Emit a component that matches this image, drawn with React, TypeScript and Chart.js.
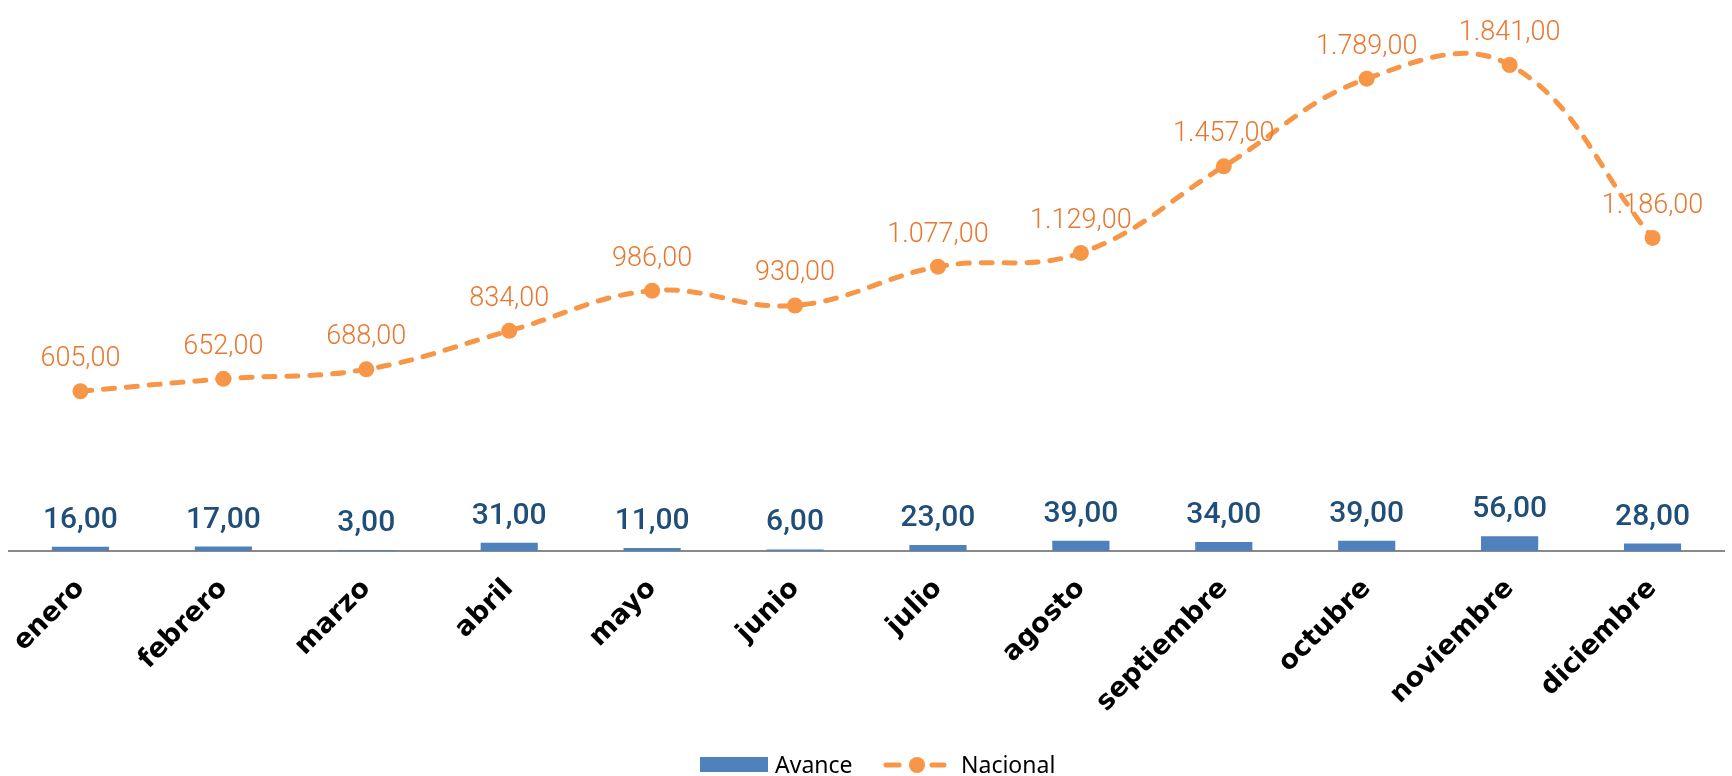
import React, { useEffect, useRef } from "react";
import { Chart, registerables } from "chart.js";

Chart.register(...registerables);

const categories = ["enero", "febrero", "marzo", "abril", "mayo", "junio", "julio", "agosto", "septiembre", "octubre", "noviembre", "diciembre"];
const avance = [16, 17, 3, 31, 11, 6, 23, 39, 34, 39, 56, 28];
const nacional = [605, 652, 688, 834, 986, 930, 1077, 1129, 1457, 1789, 1841, 1186];
const seriesNames = ["Avance", "Nacional"];

const BAR_COLOR = "#4F81BD";
const LINE_COLOR = "#F79646";
const BAR_LABEL_COLOR = "#1F4E79";
const LINE_LABEL_COLOR = "#E8772E";

function fmt(v: number): string {
  const [i, d] = v.toFixed(2).split(".");
  return i.replace(/\B(?=(\d{3})+(?!\d))/g, ".") + "," + d;
}

const labelPlugin = {
  id: "valueLabels",
  afterDatasetsDraw(chart: any) {
    const ctx = chart.ctx;
    ctx.save();
    ctx.textAlign = "center";
    ctx.textBaseline = "alphabetic";
    const barMeta = chart.getDatasetMeta(0);
    ctx.font = "500 30px Roboto";
    ctx.fillStyle = BAR_LABEL_COLOR;
    barMeta.data.forEach((el: any, i: number) => {
      ctx.fillText(fmt(avance[i]), el.x, el.y - 19);
    });
    const lineMeta = chart.getDatasetMeta(1);
    ctx.font = "300 27px Roboto";
    ctx.fillStyle = LINE_LABEL_COLOR;
    lineMeta.data.forEach((el: any, i: number) => {
      ctx.fillText(fmt(nacional[i]), el.x, el.y - 25);
    });
    ctx.restore();
  },
  afterDraw(chart: any) {
    const ctx = chart.ctx;
    ctx.save();
    const y = 765;
    ctx.fillStyle = BAR_COLOR;
    ctx.fillRect(700, 757, 68, 15);
    ctx.font = "23px 'Noto Sans'";
    ctx.fillStyle = "#000000";
    ctx.textBaseline = "alphabetic";
    ctx.textAlign = "left";
    ctx.fillText(seriesNames[0], 775, 773);
    ctx.strokeStyle = LINE_COLOR;
    ctx.lineWidth = 5;
    ctx.lineCap = "round";
    ctx.beginPath();
    ctx.moveTo(886, y);
    ctx.lineTo(899, y);
    ctx.moveTo(932, y);
    ctx.lineTo(944, y);
    ctx.stroke();
    ctx.fillStyle = LINE_COLOR;
    ctx.beginPath();
    ctx.arc(917, y, 8, 0, Math.PI * 2);
    ctx.fill();
    ctx.fillStyle = "#000000";
    ctx.fillText(seriesNames[1], 961, 773);
    ctx.restore();
  },
};

export default function App() {
  const ref = useRef<HTMLCanvasElement | null>(null);
  useEffect(() => {
    if (!ref.current) return;
    const chart = new Chart(ref.current, {
      type: "bar",
      data: {
        labels: categories,
        datasets: [
          {
            type: "bar",
            label: seriesNames[0],
            data: avance,
            backgroundColor: BAR_COLOR,
            barPercentage: 0.4,
            categoryPercentage: 1,
            order: 2,
          },
          {
            type: "line",
            label: seriesNames[1],
            data: nacional,
            borderColor: LINE_COLOR,
            backgroundColor: LINE_COLOR,
            borderWidth: 5,
            borderDash: [11, 12],
            borderCapStyle: "round",
            tension: 0.4,
            pointRadius: 8,
            pointHoverRadius: 8,
            pointBackgroundColor: LINE_COLOR,
            pointBorderWidth: 0,
            order: 1,
          } as any,
        ],
      },
      options: {
        animation: false,
        responsive: false,
        devicePixelRatio: 1,
        layout: { padding: { left: 9, right: 0, top: 23, bottom: 0 } },
        plugins: {
          legend: { display: false },
          tooltip: { enabled: false },
        },
        scales: {
          x: {
            grid: { display: false },
            border: { display: true, color: "#898989", width: 2 },
            ticks: {
              autoSkip: false,
              maxRotation: 45,
              minRotation: 45,
              color: "#000000",
              padding: 14,
              font: { family: "'DejaVu Sans'", weight: "bold", size: 27 },
            },
            afterFit: (scale: any) => {
              scale.height = 225;
            },
          },
          y: {
            display: false,
            min: 0,
            max: 2000,
          },
        },
      },
      plugins: [labelPlugin],
    });
    return () => chart.destroy();
  }, []);
  return (
    <div style={{ position: "fixed", left: 0, top: 0, width: 1732, height: 776, background: "#ffffff" }}>
      <canvas ref={ref} width={1732} height={776} style={{ width: 1732, height: 776, display: "block" }} />
    </div>
  );
}
